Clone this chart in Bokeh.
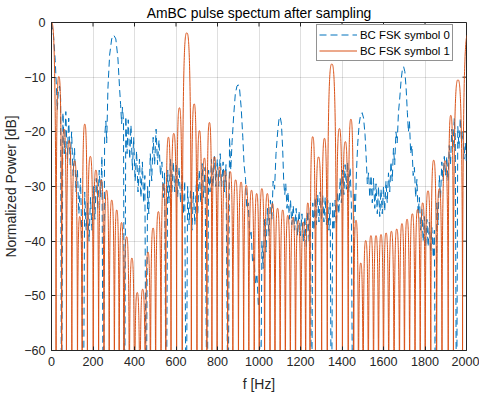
from bokeh.plotting import figure
from bokeh.models import Range1d, FixedTicker, Legend, LegendItem, ColumnDataSource
from bokeh.embed import file_html
from bokeh.resources import INLINE

# ---------------- data ----------------
x_ticks = [0, 200, 400, 600, 800, 1000, 1200, 1400, 1600, 1800, 2000]
y_ticks = [-60, -50, -40, -30, -20, -10, 0]

# BC FSK symbol 1: lobe edges (nulls, Hz) and the peak level of each lobe (dB)
orange_nulls = [-22, 22, 49, 72, 98, 125, 148, 173, 201, 227, 253, 278, 303, 326, 349,
                375, 400, 426, 453, 477, 502, 528, 551, 576, 603, 630, 674, 701, 725,
                749, 773, 798, 823, 849, 874, 901, 926, 951, 977, 1001, 1027, 1053,
                1077, 1102, 1127, 1151, 1176, 1202, 1225, 1246, 1272, 1302, 1329, 1373,
                1402, 1430, 1456, 1479, 1502, 1527, 1552, 1576, 1600, 1625, 1651, 1677,
                1701, 1726, 1752, 1777, 1801, 1828, 1856, 1882, 1912, 1937, 1981, 2033]
orange_peak_db = [0, -9.9, -19.5, -21.6, -25.3, -35.5, -18.6, -24.5, -27, -28.8, -30.7,
                  -32.5, -34.3, -36.6, -39.2, -43.1, -49.4, -48.8, -42, -37.6, -34.6,
                  -29.5, -21, -20.3, -15.6, -1.9, -14.9, -19.8, -24.8, -18.3, -24.6,
                  -26.4, -27.1, -27.3, -28.8, -29.2, -29.8, -30.7, -31.3, -30.4, -31.3,
                  -33.1, -34, -34.3, -35.3, -35.6, -36.2, -36.5, -33, -20.9, -24.6,
                  -21.2, -7.6, -19.4, -21.8, -17.7, -36.2, -44, -39.9, -39, -39, -38.8,
                  -38.5, -38.2, -37.8, -36.8, -36, -35, -34.2, -33, -30.8, -25.2, -30.4,
                  -25.3, -17, -10.5, -2.2]

# BC FSK symbol 0: traced points (Hz, dB); -80 marks a deep null below the axis
blue_f = [0, 10, 18, 24, 28, 33, 39, 44, 48,
          55, 62, 69, 76, 83, 90, 97, 104, 111, 118, 125, 132, 140, 146, 153,
          160, 167, 174, 181, 188, 195, 202, 209, 216, 223, 230, 237, 243, 250,
          256, 262, 266, 272, 280, 290, 300, 310, 320, 328, 333, 338, 342, 347, 352,
          358, 364, 370, 377, 383, 390, 396, 403, 410, 417, 424, 431, 438, 444, 450, 456,
          463, 469, 476, 483, 490, 497, 504, 511, 518, 525, 532, 539, 545, 553,
          560, 566, 573, 580, 587, 594, 601, 608, 615, 622, 629, 636, 642, 649,
          656, 663, 670, 677, 684, 691, 698, 705, 712, 719, 726, 733, 740, 750,
          757, 764, 771, 778, 785, 792, 799, 806, 813, 820, 827, 834, 841, 851,
          858, 864, 870, 878, 886, 894, 900, 906, 914, 922, 928, 935, 941, 948, 955, 962,
          969, 976, 983, 990, 997, 1002, 1007,
          1014, 1020, 1027, 1034, 1041, 1048, 1055, 1062, 1068, 1075, 1082, 1090, 1096,
          1102, 1108, 1114, 1119, 1124, 1129, 1135, 1140, 1146, 1152,
          1158, 1165, 1172, 1179, 1186, 1193, 1200, 1207, 1214, 1221, 1228, 1235, 1242, 1248, 1253,
          1259, 1265, 1271, 1277, 1283, 1289, 1295, 1301, 1307, 1313, 1319, 1325, 1331, 1337, 1343, 1349,
          1355, 1361, 1367, 1373, 1379, 1385, 1391, 1397, 1403, 1409, 1415, 1421, 1427, 1433, 1439, 1445, 1452,
          1458, 1464, 1470, 1476, 1483, 1490, 1497, 1504, 1511, 1517, 1522, 1528, 1534, 1540,
          1546, 1552, 1558, 1564, 1570, 1576, 1582,
          1588, 1594, 1600, 1606, 1612, 1618, 1624, 1630, 1636, 1642, 1648, 1654, 1660, 1666,
          1672, 1678, 1685, 1691, 1697, 1703, 1709, 1715, 1720, 1725, 1731, 1737, 1743, 1749,
          1755, 1761, 1767, 1773, 1779, 1785, 1791, 1797, 1803, 1809, 1815, 1821, 1827, 1833,
          1840, 1845, 1851,
          1857, 1863, 1869, 1875, 1881, 1887, 1893, 1899, 1905, 1911, 1917, 1923, 1929, 1935, 1941, 1946, 1952,
          1958, 1964, 1970, 1976, 1982, 1988, 1994, 2000]
blue_db = [0, -2.5, -7, -12, -16, -12.5, -11.6, -14, -80,
           -16.5, -24, -16.3, -25, -17.5, -26, -20, -28, -23, -31, -27, -35, -28.5, -40, -80,
           -31, -38, -33, -40, -32, -38, -30, -36, -28.5, -34, -27, -32, -24.5, -80,
           -21, -18, -22, -12, -6, -3, -2.3, -3, -6.5, -12, -15, -18.5, -15.5, -18, -80,
           -17.2, -24, -17.8, -25, -18.8, -27, -21, -29, -23.5, -31, -25, -32, -25.5, -33, -28, -80,
           -30, -35, -24, -29, -21, -26, -19.5, -26, -21.5, -28, -25.5, -32, -27.5, -80,
           -27, -33, -25, -31, -25.5, -31, -26, -32, -26.5, -33, -28, -35, -29, -80,
           -30, -37, -30.5, -38, -31, -37, -29, -35, -27, -33, -25.8, -32, -26.5, -80,
           -27, -31, -25, -30, -24.5, -30, -25, -30, -24, -30, -25.5, -31, -26, -80,
           -21, -27, -22, -17, -13, -11.6, -11.4, -12, -15.5, -21, -26, -28.5, -34, -33, -39, -38,
           -44, -43, -48, -46, -52, -50, -80,
           -40, -45, -36, -42, -34, -39, -32.5, -36, -29, -30.5, -24, -20, -17.8,
           -17.2, -18.5, -23, -29, -31.5, -29.5, -34, -31, -36, -32.5,
           -37, -33.5, -38, -34, -39, -34.5, -39, -35, -40, -35.5, -41, -34.5, -40, -33.5, -80,
           -33, -38, -32, -37, -31.5, -36.5, -31, -36, -31.5, -36.5, -32, -37, -32.5, -38, -33, -80,
           -33, -38, -32.5, -37, -31, -35, -28.5, -33, -27, -31.5, -26, -30.5, -25.5, -31, -26.5, -33, -80,
           -31, -35, -27, -22, -18.5, -16.8, -16.5, -17.5, -20.5, -25, -29.5, -27.5, -32, -28,
           -33, -28.5, -34, -29.5, -35, -30, -35.5,
           -30.5, -35, -30, -34.5, -29, -33, -27.5, -31, -25.5, -29, -23, -26, -20, -22,
           -16.5, -14, -10.5, -8.6, -8.1, -9, -12, -16.5, -20, -18, -24, -22.5, -28, -26.5,
           -32, -28.7, -35, -32, -38, -34.2, -40, -35.5, -41, -36, -41, -36.5, -42, -37.5,
           -43, -38, -80,
           -33, -37, -28, -32, -25.5, -29, -24.5, -28, -24.5, -29, -22.5, -26, -19.5, -23, -17.5, -21, -80,
           -19, -23, -17.5, -22, -20, -25, -22, -26]

# ---------------- styling ----------------
BLUE = "#0072BD"
ORANGE = "#D95319"
AX = "#262626"
FONT = "Liberation Sans"
TICK_PX = 4

p = figure(width=479, height=399, output_backend="svg", toolbar_location=None,
           x_range=Range1d(0, 2000), y_range=Range1d(-60, 0),
           min_border_left=51, min_border_right=13, min_border_top=22, min_border_bottom=49,
           background_fill_color="white", border_fill_color="white")

p.title.text = "AmBC pulse spectum after sampling"
p.title.align = "center"
p.title.text_font = FONT
p.title.text_font_size = "13.9px"
p.title.text_font_style = "normal"
p.title.text_color = "#000000"
p.title.standoff = 3

p.outline_line_color = AX
p.outline_line_width = 1

for ax in (p.xaxis[0], p.yaxis[0]):
    ax.major_tick_in = TICK_PX
    ax.major_tick_out = 0
    ax.minor_tick_line_color = None
    ax.axis_line_color = AX
    ax.major_tick_line_color = AX
    ax.major_label_text_font = FONT
    ax.major_label_text_font_size = "12.6px"
    ax.major_label_text_color = AX
    ax.axis_label_text_font = FONT
    ax.axis_label_text_font_size = "13.9px"
    ax.axis_label_text_font_style = "normal"
    ax.axis_label_text_color = AX

p.xaxis[0].ticker = FixedTicker(ticks=x_ticks)
p.yaxis[0].ticker = FixedTicker(ticks=y_ticks)
p.xaxis[0].axis_label = "f [Hz]"
p.yaxis[0].axis_label = "Normalized Power [dB]"
p.xaxis[0].major_label_standoff = 6
p.yaxis[0].major_label_standoff = 6
p.xaxis[0].axis_label_standoff = 7
p.yaxis[0].axis_label_standoff = 2

p.xgrid.grid_line_color = AX
p.xgrid.grid_line_alpha = 0.15
p.ygrid.grid_line_color = AX
p.ygrid.grid_line_alpha = 0.15
p.xgrid.ticker = FixedTicker(ticks=x_ticks)
p.ygrid.ticker = FixedTicker(ticks=y_ticks)

# inward ticks on the top and right edges of the box (MATLAB style)
frame_w = 479 - 51 - 13
frame_h = 399 - 22 - 49
dy_tick = TICK_PX * 60.0 / frame_h
dx_tick = TICK_PX * 2000.0 / frame_w
p.segment(x0=x_ticks, y0=[0] * len(x_ticks), x1=x_ticks, y1=[-dy_tick] * len(x_ticks),
          line_color=AX, line_width=1)
p.segment(x0=[2000] * len(y_ticks), y0=y_ticks, x1=[2000 - dx_tick] * len(y_ticks), y1=y_ticks,
          line_color=AX, line_width=1)

# symbol 0: dashed traced line
p.line(blue_f, blue_db, line_color=BLUE, line_width=1, line_dash="7 4")

# symbol 1: each lobe drawn as two bezier halves between its nulls
x0s, y0s, x1s, y1s, cx0s, cy0s, cx1s, cy1s = [], [], [], [], [], [], [], []
for a, b, pk in zip(orange_nulls[:-1], orange_nulls[1:], orange_peak_db):
    m = (a + b) / 2.0
    hw = (b - a) / 2.0
    base = min(pk - 45, -62)
    for edge, sgn in ((a, 1), (b, -1)):
        x0s.append(edge); y0s.append(base)
        x1s.append(m); y1s.append(pk)
        cx0s.append(edge); cy0s.append(pk)
        cx1s.append(edge + sgn * 0.6 * hw); cy1s.append(pk)
src = ColumnDataSource(dict(x0=x0s, y0=y0s, x1=x1s, y1=y1s, cx0=cx0s, cy0=cy0s, cx1=cx1s, cy1=cy1s))
p.bezier(x0="x0", y0="y0", x1="x1", y1="y1", cx0="cx0", cy0="cy0", cx1="cx1", cy1="cy1",
         source=src, line_color=ORANGE, line_width=1)

# legend (proxy lines lie outside the visible range)
lb = p.line([-500, -400], [-100, -100], line_color=BLUE, line_width=1, line_dash="7 4")
lo = p.line([-500, -400], [-100, -100], line_color=ORANGE, line_width=1)
legend = Legend(items=[LegendItem(label="BC FSK symbol 0", renderers=[lb]),
                       LegendItem(label="BC FSK symbol 1", renderers=[lo])],
                location=(265, 289), orientation="vertical",
                label_text_font=FONT, label_text_font_size="11.4px", label_text_color="#000000",
                glyph_width=38, glyph_height=15, label_height=15, label_standoff=3,
                padding=2, spacing=1, margin=0,
                border_line_color=AX, border_line_width=1,
                background_fill_color="white", background_fill_alpha=1)
p.add_layout(legend)

open("out.html", "w").write(file_html(p, INLINE))
